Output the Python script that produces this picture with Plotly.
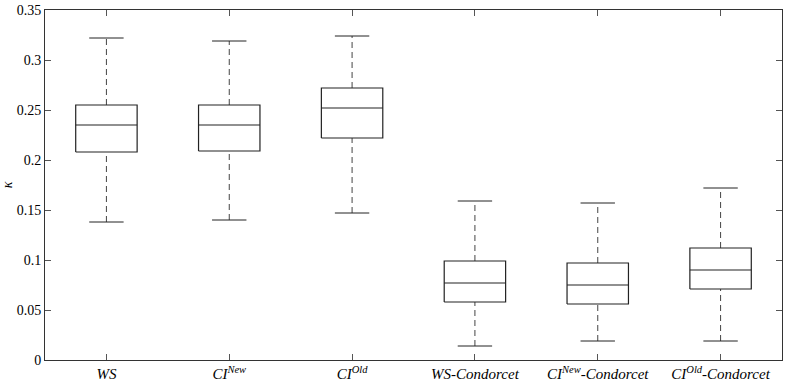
import plotly.graph_objects as go

# box statistics (kappa values)
labels = ["<i>WS</i>", "<i>CI</i><sup><i>New</i></sup>", "<i>CI</i><sup><i>Old</i></sup>",
          "<i>WS-Condorcet</i>", "<i>CI</i><sup><i>New</i></sup><i>-Condorcet</i>",
          "<i>CI</i><sup><i>Old</i></sup><i>-Condorcet</i>"]
lower = [0.138, 0.140, 0.147, 0.014, 0.019, 0.019]
q1 = [0.208, 0.209, 0.222, 0.058, 0.056, 0.071]
median = [0.235, 0.235, 0.252, 0.077, 0.075, 0.090]
q3 = [0.255, 0.255, 0.272, 0.099, 0.097, 0.112]
upper = [0.322, 0.319, 0.324, 0.159, 0.157, 0.172]

pos = list(range(1, len(labels) + 1))
half_box = 0.25
half_cap = 0.14
line_col = "#222222"

bx, by, mx, my, wx, wy, cx, cy = [], [], [], [], [], [], [], []
for p, lo, a, m, b, hi in zip(pos, lower, q1, median, q3, upper):
    bx += [p - half_box, p + half_box, p + half_box, p - half_box, p - half_box, None]
    by += [a, a, b, b, a, None]
    mx += [p - half_box, p + half_box, None]
    my += [m, m, None]
    wx += [p, p, None, p, p, None]
    wy += [b, hi, None, lo, a, None]
    cx += [p - half_cap, p + half_cap, None, p - half_cap, p + half_cap, None]
    cy += [hi, hi, None, lo, lo, None]

fig = go.Figure()
fig.add_trace(go.Scatter(x=wx, y=wy, mode="lines",
                         line=dict(color="#444444", width=1, dash="6px,4px")))
fig.add_trace(go.Scatter(x=cx, y=cy, mode="lines", line=dict(color=line_col, width=1)))
fig.add_trace(go.Scatter(x=bx, y=by, mode="lines", line=dict(color=line_col, width=1.2)))
fig.add_trace(go.Scatter(x=mx, y=my, mode="lines", line=dict(color=line_col, width=1.2)))

fig.update_layout(
    width=789, height=383,
    margin=dict(l=45, r=7, t=10, b=23),
    plot_bgcolor="white", paper_bgcolor="white",
    showlegend=False,
    font=dict(family="Liberation Serif, DejaVu Serif, serif", size=14, color="black"),
)
fig.update_xaxes(range=[0.5, 6.5], tickvals=pos, ticktext=labels, automargin=False,
                 ticks="inside", ticklen=6, tickcolor="#555555",
                 showline=True, linecolor="#333333", linewidth=1, mirror="ticks",
                 showgrid=False, zeroline=False, tickfont=dict(size=15))
fig.update_yaxes(range=[0, 0.35], dtick=0.05, tickformat="~g", automargin=False,
                 ticks="inside", ticklen=6, tickcolor="#555555",
                 showline=True, linecolor="#333333", linewidth=1, mirror="ticks",
                 showgrid=False, zeroline=False,
                 title=dict(text="<i>κ</i>", standoff=9, font=dict(size=14)))

fig.write_html("out.html", config={"displayModeBar": False},
               post_script="document.body.style.margin='0';document.body.style.overflow='hidden';")
